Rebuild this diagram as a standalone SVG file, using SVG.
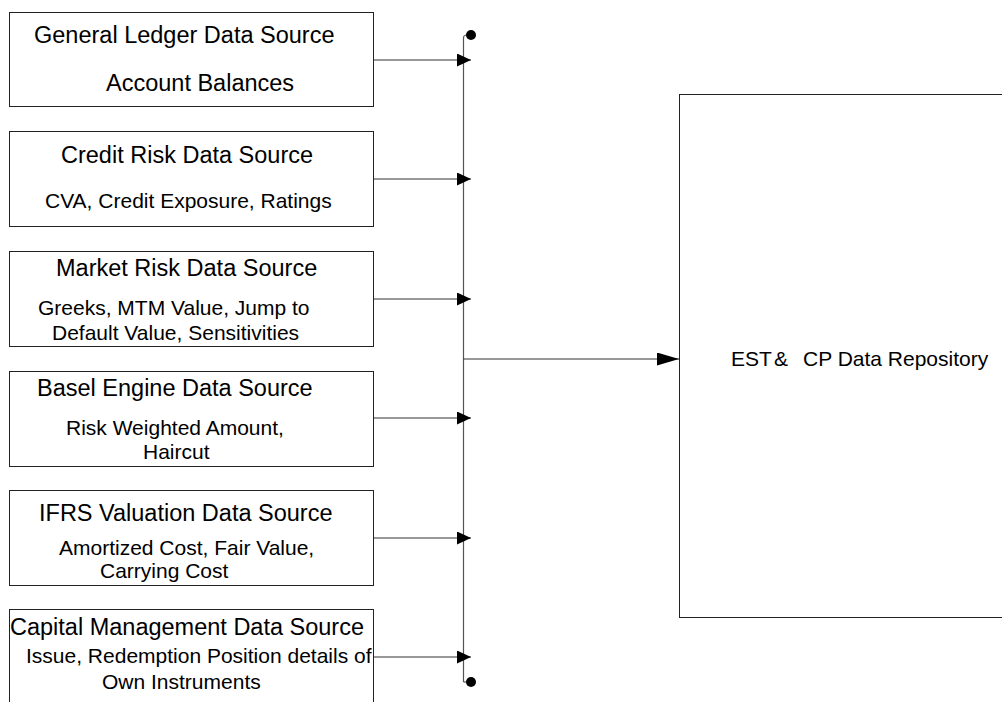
<svg xmlns="http://www.w3.org/2000/svg" width="1002" height="702" viewBox="0 0 1002 702">
<style>
  .box { fill: #fff; stroke: #222; stroke-width: 1; }
  .t { font-family: "Liberation Sans", Arial, sans-serif; font-size: 23.5px; fill: #000; }
  .s { font-family: "Liberation Sans", Arial, sans-serif; font-size: 21px; fill: #000; }
  .r { font-family: "Liberation Sans", Arial, sans-serif; font-size: 21px; fill: #000; }
  .c { fill: none; stroke: #333; stroke-width: 1; }
  .bus { fill: none; stroke: #555; stroke-width: 1.2; }
</style>
<defs>
  <marker id="arr" viewBox="0 0 14 13" refX="14" refY="6.5" markerWidth="14" markerHeight="13" markerUnits="userSpaceOnUse" orient="auto">
    <path d="M0,0 L14,6.5 L0,13 Z" fill="#000"/>
  </marker>
  <marker id="arrBig" viewBox="0 0 22 13" refX="22" refY="6.5" markerWidth="22" markerHeight="13" markerUnits="userSpaceOnUse" orient="auto">
    <path d="M0,0 L22,6.5 L0,13 Z" fill="#000"/>
  </marker>
</defs>
<rect x="0" y="0" width="1002" height="702" fill="#fff"/>

<g id="gl">
  <rect class="box" x="9.5" y="12.5" width="364" height="94"/>
  <text class="t" x="34" y="43">General Ledger Data Source</text>
  <text class="t" x="106" y="91">Account Balances</text>
</g>
<g id="cr">
  <rect class="box" x="9.5" y="131.5" width="364" height="95"/>
  <text class="t" x="61" y="163">Credit Risk Data Source</text>
  <text class="s" x="45" y="208">CVA, Credit Exposure, Ratings</text>
</g>
<g id="mr">
  <rect class="box" x="9.5" y="251.5" width="364" height="95"/>
  <text class="t" x="56" y="276">Market Risk Data Source</text>
  <text class="s" x="38" y="315">Greeks, MTM Value, Jump to</text>
  <text class="s" x="52" y="340">Default Value, Sensitivities</text>
</g>
<g id="be">
  <rect class="box" x="9.5" y="371.5" width="364" height="95"/>
  <text class="t" x="37" y="396">Basel Engine Data Source</text>
  <text class="s" x="66" y="435">Risk Weighted Amount,</text>
  <text class="s" x="143" y="459">Haircut</text>
</g>
<g id="ifrs">
  <rect class="box" x="9.5" y="490.5" width="364" height="95"/>
  <text class="t" x="39" y="521">IFRS Valuation Data Source</text>
  <text class="s" x="59" y="555">Amortized Cost, Fair Value,</text>
  <text class="s" x="100" y="578">Carrying Cost</text>
</g>
<g id="cm">
  <rect class="box" x="9.5" y="609.5" width="364" height="110"/>
  <text class="t" x="10" y="635">Capital Management Data Source</text>
  <text class="s" x="26" y="663">Issue, Redemption Position details of</text>
  <text class="s" x="102" y="689">Own Instruments</text>
</g>
<g id="repo">
  <rect class="box" x="679.5" y="94.5" width="340" height="523"/>
  <text class="r" y="366"><tspan x="731">EST</tspan><tspan x="774">&amp;</tspan><tspan x="803">CP Data Repository</tspan></text>
</g>

<g id="connectors">
  <path class="bus" d="M463.5,682 L463.5,38 Q463.5,35 467,35"/>
  <path class="bus" d="M463.5,682 L467,682"/>
  <circle cx="471" cy="35" r="5" fill="#000"/>
  <circle cx="471" cy="682" r="5" fill="#000"/>
  <line class="c" x1="374" y1="60" x2="471" y2="60" marker-end="url(#arr)"/>
  <line class="c" x1="374" y1="179" x2="471" y2="179" marker-end="url(#arr)"/>
  <line class="c" x1="374" y1="299" x2="471" y2="299" marker-end="url(#arr)"/>
  <line class="c" x1="374" y1="418" x2="471" y2="418" marker-end="url(#arr)"/>
  <line class="c" x1="374" y1="538" x2="471" y2="538" marker-end="url(#arr)"/>
  <line class="c" x1="374" y1="657" x2="471" y2="657" marker-end="url(#arr)"/>
  <line class="c" x1="463.5" y1="359" x2="679" y2="359" marker-end="url(#arrBig)"/>
</g>
</svg>
